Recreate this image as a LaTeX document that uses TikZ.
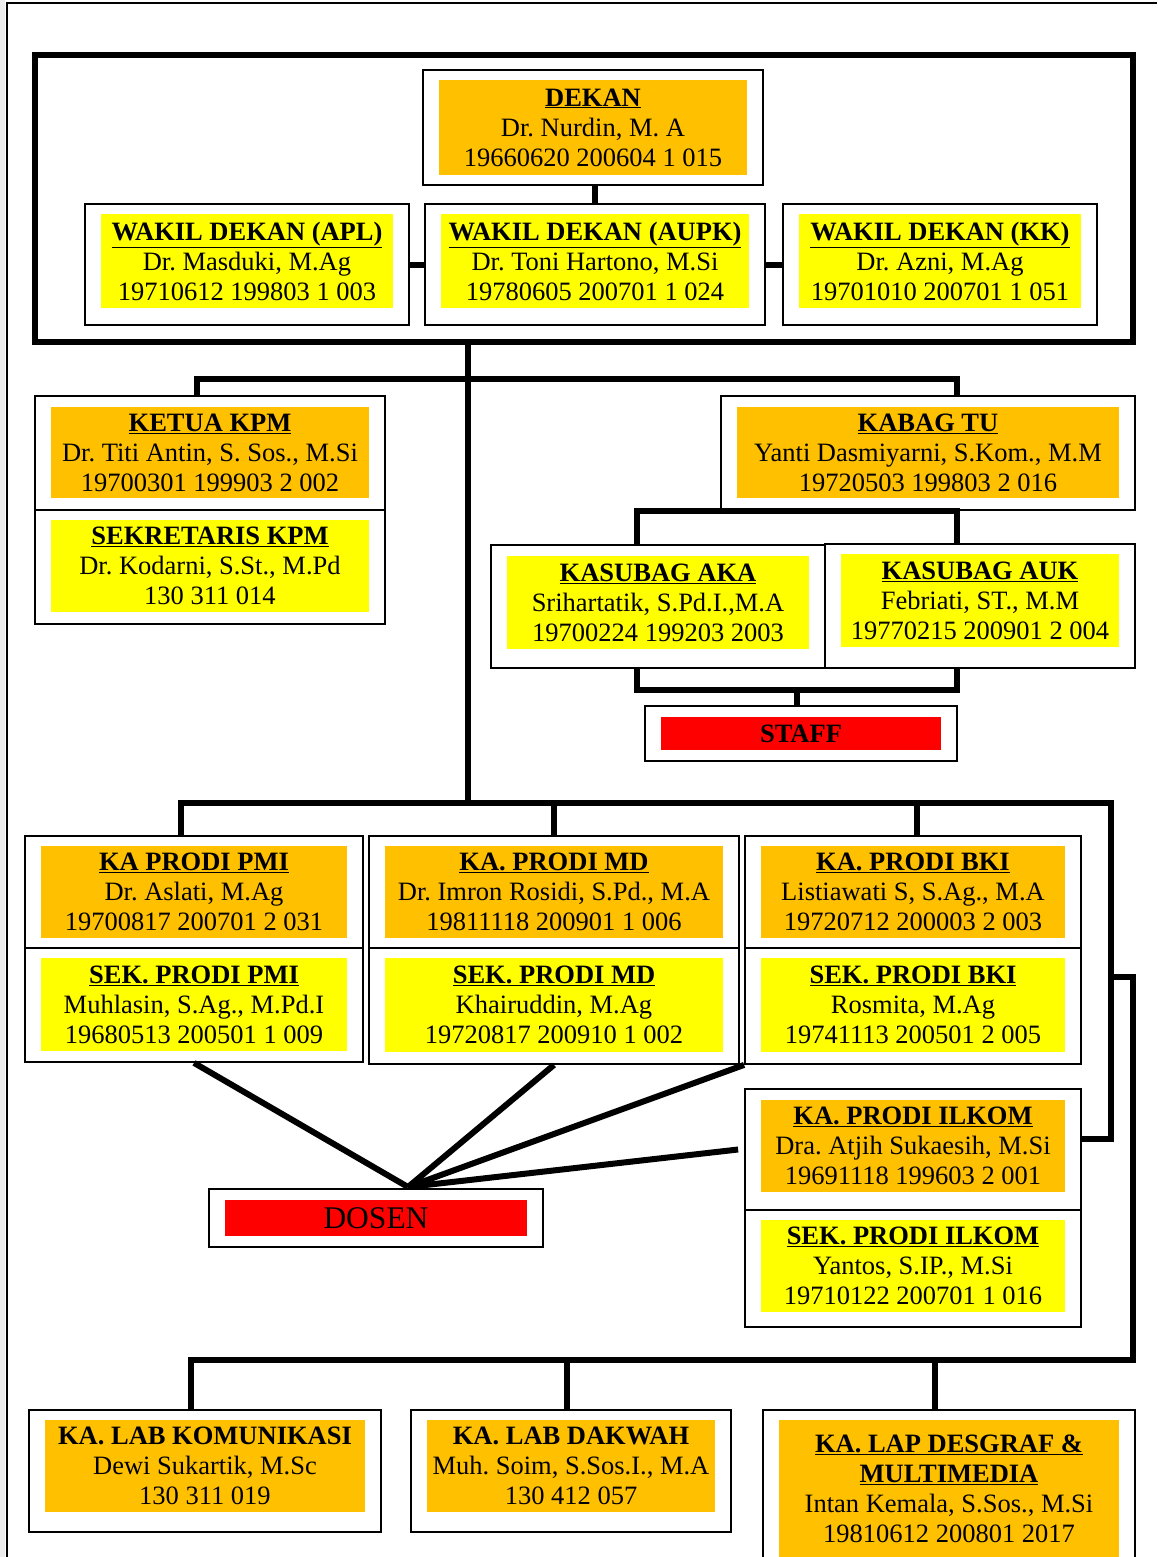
\documentclass[tikz,border=0pt]{standalone}
\usepackage{fontspec}
\setmainfont{Liberation Serif}
\usepackage{tikz}
\usetikzlibrary{positioning,calc}
\definecolor{HeadOrange}{RGB}{255,192,0}
\definecolor{SubYellow}{RGB}{255,255,0}
\definecolor{StaffRed}{RGB}{255,0,0}
\newcommand{\jabatan}[1]{\underline{\textbf{#1}}}
\frenchspacing

\begin{document}
\begin{tikzpicture}[
    x=1pt, y=-1pt,
    font=\fontsize{26.5}{30}\selectfont,
    postbox/.style={
        draw,
        line width=1.8pt,
        fill=white,
        inner sep=0pt
    },
    headfill/.style={
        fill=HeadOrange,
        align=center,
        inner sep=0pt
    },
    subfill/.style={
        fill=SubYellow,
        align=center,
        inner sep=0pt
    },
    redfill/.style={
        fill=StaffRed,
        align=center,
        inner sep=0pt
    },
    link/.style={
        line width=6pt,
        draw=black
    }
]

\useasboundingbox (0,0) rectangle (1157,1557);
\fill[black!7] (0,0) rectangle (5,1557);
\draw[line width=1.5pt] (7,1557) |- (1157,3);

% =========================
% pimpinan fakultas
% =========================
\node[draw, line width=6.5pt, minimum width=1098pt, minimum height=287pt] (pimpinan) at (584,198.5) {};

\node[postbox, minimum width=340pt, minimum height=115pt] (dekan) at (593,127.5) {};
\node[headfill, minimum width=308pt, minimum height=95pt] (dekanIn) at (593,127.5)
    {\jabatan{DEKAN}\\Dr. Nurdin, M. A\\19660620 200604 1 015};

\node[postbox, minimum width=324pt, minimum height=121pt] (wdapl) at (247,264.5) {};
\node[subfill, minimum width=292pt, minimum height=94pt] (wdaplIn) at (247,261)
    {\jabatan{WAKIL DEKAN (APL)}\\Dr. Masduki, M.Ag\\19710612 199803 1 003};

\node[postbox, minimum width=340pt, minimum height=121pt] (wdaupk) at (595,264.5) {};
\node[subfill, minimum width=308pt, minimum height=94pt] (wdaupkIn) at (595,261)
    {\jabatan{WAKIL DEKAN (AUPK)}\\Dr. Toni Hartono, M.Si\\19780605 200701 1 024};

\node[postbox, minimum width=314pt, minimum height=121pt] (wdkk) at (940,264.5) {};
\node[subfill, minimum width=282pt, minimum height=94pt] (wdkkIn) at (940,261)
    {\jabatan{WAKIL DEKAN (KK)}\\Dr. Azni, M.Ag\\19701010 200701 1 051};

\draw[link] (dekan.south -| wdaupk.north) -- (wdaupk.north);
\draw[link] (wdapl.east) -- (wdaupk.west);
\draw[link] (wdaupk.east) -- (wdkk.west);

% =========================
% KPM and tata usaha
% =========================
\node[postbox, minimum width=350pt, minimum height=114pt] (ketua) at (210,453) {};
\node[headfill, minimum width=318pt, minimum height=91pt] (ketuaIn) at (210,452.5)
    {\jabatan{KETUA KPM}\\Dr. Titi Antin, S. Sos., M.Si\\19700301 199903 2 002};

\node[postbox, minimum width=350pt, minimum height=114pt] (sekkpm) at (210,567) {};
\node[subfill, minimum width=318pt, minimum height=92pt] (sekkpmIn) at (210,566)
    {\jabatan{SEKRETARIS KPM}\\Dr. Kodarni, S.St., M.Pd\\130 311 014};

\node[postbox, minimum width=414pt, minimum height=114pt] (kabag) at (928,453) {};
\node[headfill, minimum width=382pt, minimum height=91pt] (kabagIn) at (928,452.5)
    {\jabatan{KABAG TU}\\Yanti Dasmiyarni, S.Kom., M.M\\19720503 199803 2 016};

\node[postbox, minimum width=334pt, minimum height=123pt] (akaa) at (658,606.5) {};
\node[subfill, minimum width=302pt, minimum height=93pt] (akaaIn) at (658,602.5)
    {\jabatan{KASUBAG AKA}\\Srihartatik, S.Pd.I.,M.A\\19700224 199203 2003};

\node[postbox, minimum width=310pt, minimum height=124pt] (auk) at (980,606) {};
\node[subfill, minimum width=278pt, minimum height=93pt] (aukIn) at (980,600.5)
    {\jabatan{KASUBAG AUK}\\Febriati, ST., M.M\\19770215 200901 2 004};

\node[postbox, minimum width=312pt, minimum height=55pt] (staff) at (801,733.5) {};
\node[redfill, minimum width=280pt, minimum height=33pt] (staffIn) at (801,733.5) {\textbf{STAFF}};

\coordinate (bus1) at (468,379);
\coordinate (bus2) at (468,803);
\coordinate (staffbus) at (797,690);

\draw[link] (pimpinan.south -| bus1) -- (bus2);
\draw[link] ([xshift=-13pt]ketua.north) |- (bus1) -| ([xshift=29pt]kabag.north);
\draw[link] ([xshift=-21pt]akaa.north) |- ([xshift=29pt]kabag.south) -- ([xshift=-23pt]auk.north);
\draw[link] ([xshift=-21pt]akaa.south) |- (staffbus) -| ([xshift=-23pt]auk.south);
\draw[link] (staffbus) -- (staffbus |- staff.north);

% =========================
% program studi
% =========================
\node[postbox, minimum width=338pt, minimum height=112pt] (kapmi) at (194,892) {};
\node[headfill, minimum width=306pt, minimum height=92pt] (kapmiIn) at (194,892)
    {\jabatan{KA PRODI PMI}\\Dr. Aslati, M.Ag\\19700817 200701 2 031};
\node[postbox, minimum width=338pt, minimum height=114pt] (sekpmi) at (194,1005) {};
\node[subfill, minimum width=306pt, minimum height=93pt] (sekpmiIn) at (194,1004.5)
    {\jabatan{SEK. PRODI PMI}\\Muhlasin, S.Ag., M.Pd.I\\19680513 200501 1 009};

\node[postbox, minimum width=370pt, minimum height=112pt] (kamd) at (554,892) {};
\node[headfill, minimum width=338pt, minimum height=92pt] (kamdIn) at (554,892)
    {\jabatan{KA. PRODI MD}\\Dr. Imron Rosidi, S.Pd., M.A\\19811118 200901 1 006};
\node[postbox, minimum width=370pt, minimum height=116pt] (sekmd) at (554,1006) {};
\node[subfill, minimum width=338pt, minimum height=94pt] (sekmdIn) at (554,1005)
    {\jabatan{SEK. PRODI MD}\\Khairuddin, M.Ag\\19720817 200910 1 002};

\node[postbox, minimum width=336pt, minimum height=112pt] (kabki) at (913,892) {};
\node[headfill, minimum width=304pt, minimum height=92pt] (kabkiIn) at (913,892)
    {\jabatan{KA. PRODI BKI}\\Listiawati S, S.Ag., M.A\\19720712 200003 2 003};
\node[postbox, minimum width=336pt, minimum height=116pt] (sekbki) at (913,1006) {};
\node[subfill, minimum width=304pt, minimum height=94pt] (sekbkiIn) at (913,1005)
    {\jabatan{SEK. PRODI BKI}\\Rosmita, M.Ag\\19741113 200501 2 005};

\node[postbox, minimum width=336pt, minimum height=121pt] (kailkom) at (913,1149.5) {};
\node[headfill, minimum width=304pt, minimum height=92pt] (kailkomIn) at (913,1146)
    {\jabatan{KA. PRODI ILKOM}\\Dra. Atjih Sukaesih, M.Si\\19691118 199603 2 001};
\node[postbox, minimum width=336pt, minimum height=117pt] (sekilkom) at (913,1268.5) {};
\node[subfill, minimum width=304pt, minimum height=92pt] (sekilkomIn) at (913,1266)
    {\jabatan{SEK. PRODI ILKOM}\\Yantos, S.IP., M.Si\\19710122 200701 1 016};

\node[postbox, minimum width=334pt, minimum height=58pt] (dosen) at (376,1218) {};
\node[redfill, minimum width=302pt, minimum height=36pt, font=\fontsize{31.5}{34}\selectfont] (dosenIn) at (376,1218) {DOSEN};

\coordinate (prodiR) at (1111,803);
\coordinate (dosenHub) at (408,1187);

\draw[link] ([xshift=-13pt]kapmi.north) |- (bus2) -- (prodiR) |- ([yshift=11pt]kailkom.east);
\draw[link] (kamd.north) -- (kamd.north |- bus2);
\draw[link] ([xshift=4pt]kabki.north) -- ([xshift=4pt]kabki.north |- bus2);

\draw[link] (sekpmi.south) -- (dosenHub);
\draw[link] (sekmd.south) -- (dosenHub);
\draw[link] (sekbki.south west) -- (dosenHub);
\draw[link] ([xshift=-6pt]kailkom.west) -- (dosenHub);

% =========================
% laboratorium
% =========================
\node[postbox, minimum width=352pt, minimum height=122pt] (labkom) at (205,1471) {};
\node[headfill, minimum width=320pt, minimum height=92pt] (labkomIn) at (205,1466)
    {\textbf{KA. LAB KOMUNIKASI}\\Dewi Sukartik, M.Sc\\130 311 019};

\node[postbox, minimum width=320pt, minimum height=122pt] (labdak) at (571,1471) {};
\node[headfill, minimum width=288pt, minimum height=92pt] (labdakIn) at (571,1466)
    {\textbf{KA. LAB DAKWAH}\\Muh. Soim, S.Sos.I., M.A\\130 412 057};

\node[postbox, minimum width=372pt, minimum height=170pt] (labdes) at (949,1495) {};
\node[headfill, minimum width=340pt, minimum height=137pt] (labdesIn) at (949,1488.5)
    {\jabatan{KA. LAP DESGRAF \&}\\\jabatan{MULTIMEDIA}\\Intan Kemala, S.Sos., M.Si\\19810612 200801 2017};

\coordinate (labJ) at (1111,977);
\coordinate (labbus) at (1133,1360);

\draw[link] (labJ) -| (labbus) -| ([xshift=-14pt]labkom.north);
\draw[link] ([xshift=-4pt]labdak.north) -- ([xshift=-4pt]labdak.north |- labbus);
\draw[link] ([xshift=-14pt]labdes.north) -- ([xshift=-14pt]labdes.north |- labbus);

\end{tikzpicture}
\end{document}
